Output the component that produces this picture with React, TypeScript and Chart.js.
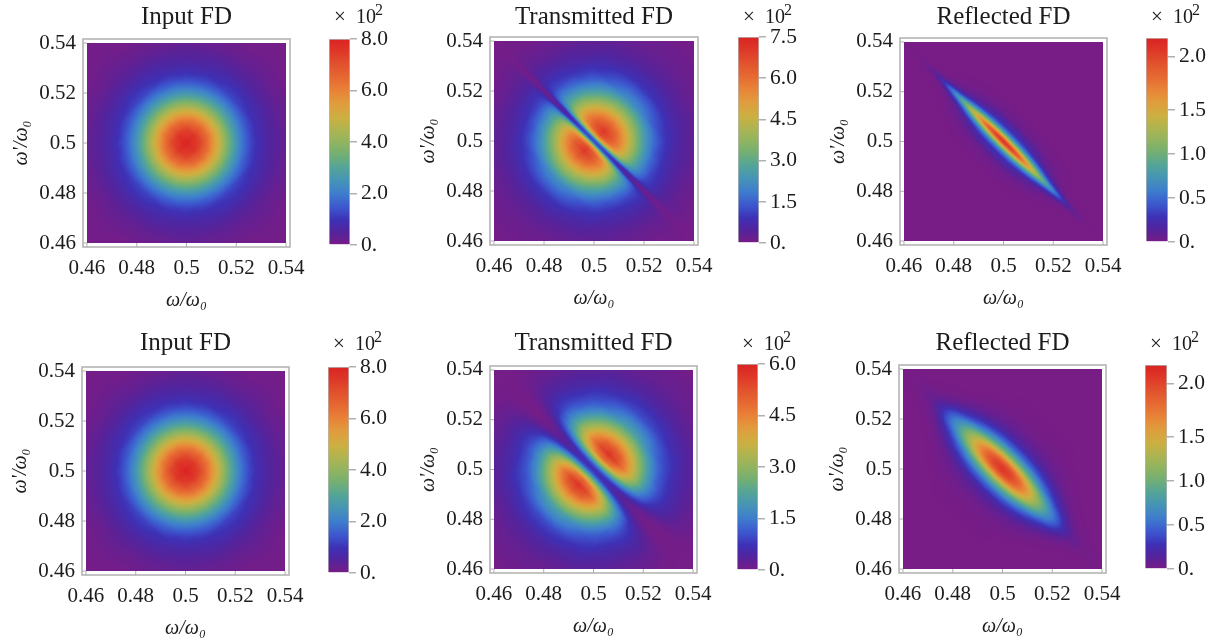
import React, { useEffect, useRef } from "react";
import { Chart, registerables } from "chart.js";

Chart.register(...registerables);

// Axis ticks shared by the six density plots
const freqTicks = [0.46, 0.48, 0.5, 0.52, 0.54];
const freqLabels = ["0.46", "0.48", "0.5", "0.52", "0.54"];
const freqMin = 0.4584;
const freqMax = 0.5416;
const heatMin = 0.46;
const heatMax = 0.54;

// Colour scale (fraction, r, g, b)
const rampAt = [0, 0.06, 0.12, 0.18, 0.25, 0.32, 0.38, 0.44, 0.5, 0.56, 0.62, 0.69, 0.75, 0.81, 0.88, 0.94, 1];
const rampR = [120, 85, 62, 60, 62, 70, 85, 115, 145, 175, 205, 225, 232, 230, 225, 222, 218];
const rampG = [28, 35, 48, 85, 125, 150, 165, 175, 180, 180, 175, 155, 130, 105, 80, 55, 35];
const rampB = [134, 155, 180, 205, 205, 180, 150, 115, 95, 80, 65, 60, 55, 50, 45, 40, 35];

// The maps are tabulated in |ω−ω'| (rows) against |ω+ω'−1| (columns)
const differenceAxis = [0, 0.006, 0.012, 0.018, 0.024, 0.03, 0.036, 0.042, 0.048, 0.055, 0.065, 0.08];

const inputSumAxis = [0, 0.006, 0.012, 0.018, 0.024, 0.03, 0.036, 0.042, 0.048, 0.055, 0.065, 0.08];
const inputValues = [
  [800, 759, 650, 502, 349, 222, 125, 88, 55, 32, 12, 3],
  [759, 720, 617, 476, 331, 210, 120, 84, 52, 30, 12, 3],
  [650, 617, 529, 408, 284, 180, 105, 76, 48, 24, 7, 2],
  [502, 476, 408, 315, 219, 140, 90, 66, 42, 22, 7, 2],
  [349, 331, 284, 219, 155, 100, 72, 53, 34, 17, 7, 2],
  [222, 210, 180, 140, 100, 80, 56, 40, 24, 14, 4, 1],
  [125, 120, 105, 90, 72, 56, 42, 32, 17, 12, 4, 1],
  [88, 84, 76, 66, 53, 40, 32, 20, 12, 7, 2, 0],
  [55, 52, 48, 42, 34, 24, 17, 12, 7, 4, 2, 0],
  [32, 30, 24, 22, 17, 14, 12, 7, 4, 2, 1, 0],
  [12, 12, 7, 7, 7, 4, 4, 2, 2, 1, 0, 0],
  [3, 3, 2, 2, 2, 1, 1, 0, 0, 0, 0, 0],
];

const transmittedASumAxis = [0, 0.0008, 0.0016, 0.0024, 0.0033, 0.0052, 0.008, 0.012, 0.016, 0.02, 0.03, 0.04, 0.05, 0.06, 0.08];
const transmittedAValues = [
  [120, 160, 302, 458, 563, 680, 705, 640, 553, 450, 222, 100, 47, 22, 3],
  [114, 151, 286, 432, 528, 625, 652, 607, 525, 428, 212, 98, 45, 21, 3],
  [98, 130, 245, 372, 458, 542, 560, 519, 450, 367, 180, 88, 43, 20, 3],
  [75, 100, 189, 288, 353, 419, 432, 404, 347, 285, 140, 74, 36, 16, 2],
  [52, 69, 131, 199, 245, 292, 302, 281, 245, 200, 105, 60, 30, 13, 2],
  [33, 55, 106, 151, 174, 197, 199, 178, 158, 125, 84, 50, 26, 10, 2],
  [19, 35, 68, 93, 106, 120, 118, 110, 98, 85, 56, 34, 20, 8, 1],
  [15, 28, 50, 68, 78, 84, 82, 75, 68, 60, 42, 28, 14, 6, 1],
  [12, 18, 30, 40, 48, 52, 52, 48, 44, 38, 28, 17, 8, 5, 0],
  [10, 14, 20, 24, 28, 30, 30, 26, 24, 22, 17, 12, 7, 4, 0],
  [7, 8, 10, 12, 12, 12, 12, 10, 9, 8, 7, 5, 4, 2, 0],
  [2, 2, 2, 2, 2, 2, 2, 2, 2, 2, 2, 1, 0, 0, 0],
];

const reflectedASumAxis = [0, 0.0007, 0.0014, 0.0022, 0.003, 0.0048, 0.0068, 0.0115, 0.0155, 0.02, 0.03, 0.06];
const reflectedAValues = [
  [220, 209, 185, 152, 114, 59, 29, 7, 2, 0, 0, 0],
  [213, 202, 179, 147, 111, 58, 28, 6, 2, 0, 0, 0],
  [195, 185, 164, 135, 101, 53, 25, 6, 2, 0, 0, 0],
  [168, 159, 139, 111, 83, 42, 18, 5, 1, 0, 0, 0],
  [136, 128, 110, 87, 64, 30, 12, 3, 1, 0, 0, 0],
  [104, 96, 80, 58, 41, 17, 8, 2, 0, 0, 0, 0],
  [75, 68, 53, 36, 23, 8, 3, 1, 0, 0, 0, 0],
  [51, 45, 33, 20, 11, 4, 1, 0, 0, 0, 0, 0],
  [26, 22, 14, 7, 3, 1, 0, 0, 0, 0, 0, 0],
  [10, 8, 4, 2, 1, 0, 0, 0, 0, 0, 0, 0],
  [2, 1, 1, 0, 0, 0, 0, 0, 0, 0, 0, 0],
  [0, 0, 0, 0, 0, 0, 0, 0, 0, 0, 0, 0],
];

const transmittedBSumAxis = [0, 0.002, 0.004, 0.006, 0.008, 0.012, 0.016, 0.02, 0.025, 0.03, 0.04, 0.05, 0.06, 0.08];
const transmittedBValues = [
  [64, 111, 235, 364, 482, 572, 525, 441, 328, 222, 100, 47, 22, 3],
  [61, 105, 220, 341, 453, 542, 499, 419, 313, 212, 98, 45, 21, 3],
  [52, 90, 191, 296, 389, 464, 428, 360, 268, 180, 88, 43, 20, 3],
  [40, 70, 147, 228, 300, 361, 330, 279, 210, 140, 74, 36, 16, 2],
  [28, 48, 102, 159, 210, 251, 233, 196, 145, 105, 60, 30, 13, 2],
  [18, 31, 65, 102, 135, 158, 150, 122, 100, 84, 50, 26, 10, 2],
  [10, 17, 37, 58, 77, 95, 95, 85, 70, 56, 34, 20, 8, 1],
  [6, 10, 22, 35, 50, 62, 64, 58, 50, 42, 28, 14, 6, 1],
  [4, 6, 12, 22, 32, 42, 42, 38, 32, 28, 17, 8, 5, 0],
  [4, 5, 8, 12, 18, 22, 24, 22, 20, 17, 12, 7, 4, 0],
  [5, 5, 5, 6, 7, 9, 9, 8, 8, 7, 5, 4, 2, 0],
  [2, 2, 2, 2, 2, 2, 2, 2, 2, 2, 1, 0, 0, 0],
];

const reflectedBSumAxis = [0, 0.002, 0.004, 0.006, 0.008, 0.012, 0.016, 0.02, 0.025, 0.03, 0.04, 0.06];
const reflectedBValues = [
  [220, 211, 185, 145, 106, 53, 22, 10, 3, 1, 0, 0],
  [213, 204, 179, 141, 102, 51, 21, 10, 3, 1, 0, 0],
  [194, 186, 163, 128, 93, 47, 19, 9, 3, 1, 0, 0],
  [166, 159, 138, 108, 78, 38, 16, 7, 2, 1, 0, 0],
  [133, 127, 109, 84, 59, 28, 12, 5, 2, 0, 0, 0],
  [101, 96, 81, 61, 41, 19, 7, 3, 1, 0, 0, 0],
  [71, 67, 54, 38, 25, 11, 4, 1, 0, 0, 0, 0],
  [48, 44, 34, 22, 14, 4, 1, 0, 0, 0, 0, 0],
  [24, 21, 15, 9, 5, 1, 0, 0, 0, 0, 0, 0],
  [8, 7, 4, 2, 1, 0, 0, 0, 0, 0, 0, 0],
  [2, 2, 1, 0, 0, 0, 0, 0, 0, 0, 0, 0],
  [0, 0, 0, 0, 0, 0, 0, 0, 0, 0, 0, 0],
];

// Colour bar ticks: where each label sits on the bar, and what it reads
const inputBarTicks = [0, 200, 400, 600, 800];
const inputBarLabels = ["0.", "2.0", "4.0", "6.0", "8.0"];
const transmittedABarTicks = [0, 150, 300, 450, 600, 750];
const transmittedABarLabels = ["0.", "1.5", "3.0", "4.5", "6.0", "7.5"];
const transmittedBBarTicks = [0, 150, 300, 450, 600];
const transmittedBBarLabels = ["0.", "1.5", "3.0", "4.5", "6.0"];
const reflectedBarTicks = [0, 50, 100, 150, 211];
const reflectedBarLabels = ["0.", "0.5", "1.0", "1.5", "2.0"];

const panels = [
  { title: "Input FD", sum: inputSumAxis, values: inputValues, max: 800, barTicks: inputBarTicks, barLabels: inputBarLabels, frame: [83, 290, 39, 247], bar: [329, 350, 39, 248], titleY: 17, noteY: 23 },
  { title: "Transmitted FD", sum: transmittedASumAxis, values: transmittedAValues, max: 750, barTicks: transmittedABarTicks, barLabels: transmittedABarLabels, frame: [490, 698, 37, 245], bar: [738, 759, 37, 246], titleY: 17, noteY: 23 },
  { title: "Reflected FD", sum: reflectedASumAxis, values: reflectedAValues, max: 232, barTicks: reflectedBarTicks, barLabels: reflectedBarLabels, frame: [900, 1107, 38, 245], bar: [1146, 1168, 38, 245], titleY: 17, noteY: 23 },
  { title: "Input FD", sum: inputSumAxis, values: inputValues, max: 800, barTicks: inputBarTicks, barLabels: inputBarLabels, frame: [82, 289, 367, 575], bar: [328, 349, 367, 576], titleY: 343.5, noteY: 350 },
  { title: "Transmitted FD", sum: transmittedBSumAxis, values: transmittedBValues, max: 600, barTicks: transmittedBBarTicks, barLabels: transmittedBBarLabels, frame: [490, 697, 366, 573], bar: [737, 758, 364, 573], titleY: 343.5, noteY: 350 },
  { title: "Reflected FD", sum: reflectedBSumAxis, values: reflectedBValues, max: 232, barTicks: reflectedBarTicks, barLabels: reflectedBarLabels, frame: [899, 1106, 365, 573], bar: [1145, 1167, 365, 572], titleY: 343.5, noteY: 350 },
];

const SERIF = '"Liberation Serif", "Times New Roman", serif';
const INK = "#1c1c1c";
const EDGE = "#b0b0b0";
const LEFT = 82;
const TOP = 39;
const BOTTOM = 67;
const RIGHT = 26;

function rampColor(t: number): number[] {
  const f = Math.max(0, Math.min(1, t));
  let i = 0;
  while (i < rampAt.length - 2 && f > rampAt[i + 1]) i++;
  const k = (f - rampAt[i]) / (rampAt[i + 1] - rampAt[i]);
  return [
    rampR[i] + (rampR[i + 1] - rampR[i]) * k,
    rampG[i] + (rampG[i + 1] - rampG[i]) * k,
    rampB[i] + (rampB[i + 1] - rampB[i]) * k,
  ];
}

function locate(axis: number[], a: number): [number, number] {
  let i = 0;
  while (i < axis.length - 2 && a > axis[i + 1]) i++;
  return [i, Math.min(1, (a - axis[i]) / (axis[i + 1] - axis[i]))];
}

function rasterPlugin(p: any) {
  return {
    id: "densityRaster",
    beforeDatasetsDraw(chart: any) {
      const { ctx, scales } = chart;
      const xs = scales.x;
      const ys = scales.y;
      const left = Math.round(xs.getPixelForValue(heatMin));
      const right = Math.round(xs.getPixelForValue(heatMax));
      const top = Math.round(ys.getPixelForValue(heatMax));
      const bottom = Math.round(ys.getPixelForValue(heatMin));
      const w = right - left;
      const h = bottom - top;
      const off = document.createElement("canvas");
      off.width = w;
      off.height = h;
      const octx = off.getContext("2d") as CanvasRenderingContext2D;
      const img = octx.createImageData(w, h);
      const lut: number[][] = [];
      for (let i = 0; i <= 1024; i++) lut.push(rampColor(i / 1024));
      for (let py = 0; py < h; py++) {
        const wy = ys.getValueForPixel(top + py + 0.5);
        for (let px = 0; px < w; px++) {
          const wx = xs.getValueForPixel(left + px + 0.5);
          const [r, a] = locate(differenceAxis, Math.abs(wx - wy));
          const [c, b] = locate(p.sum, Math.abs(wx + wy - 1));
          const row0 = p.values[r];
          const row1 = p.values[r + 1];
          const v0 = row0[c] + (row0[c + 1] - row0[c]) * b;
          const v1 = row1[c] + (row1[c + 1] - row1[c]) * b;
          const col = lut[Math.round(((v0 + (v1 - v0) * a) / p.max) * 1024)];
          const o = (py * w + px) * 4;
          img.data[o] = col[0];
          img.data[o + 1] = col[1];
          img.data[o + 2] = col[2];
          img.data[o + 3] = 255;
        }
      }
      octx.putImageData(img, 0, 0);
      ctx.drawImage(off, left, top);
    },
    afterDraw(chart: any) {
      const { ctx, chartArea: ca, scales } = chart;
      ctx.save();
      ctx.strokeStyle = EDGE;
      ctx.lineWidth = 1.5;
      ctx.strokeRect(ca.left, ca.top, ca.right - ca.left, ca.bottom - ca.top);
      ctx.lineWidth = 1;
      ctx.beginPath();
      for (const t of scales.x.ticks) {
        const px = scales.x.getPixelForValue(t.value);
        ctx.moveTo(px, ca.bottom);
        ctx.lineTo(px, ca.bottom - 4);
      }
      for (const t of scales.y.ticks) {
        const py = scales.y.getPixelForValue(t.value);
        ctx.moveTo(ca.left, py);
        ctx.lineTo(ca.left + 4, py);
      }
      ctx.stroke();
      ctx.restore();
    },
  };
}

function setFreqTicks(scale: any) {
  scale.ticks = freqTicks.map((value) => ({ value }));
}

function densityConfig(p: any): any {
  const points: any[] = [];
  differenceAxis.forEach((d, r) =>
    p.sum.forEach((s: number, c: number) => {
      points.push({ x: 0.5 + (s + d) / 2, y: 0.5 + (s - d) / 2, value: p.values[r][c] });
    })
  );
  const tickFont = { family: SERIF, size: 21 };
  const axisFont = { family: SERIF, size: 20, style: "italic" as const, lineHeight: 1.2 };
  const titleTop = p.titleY + 24 - p.frame[2];
  return {
    type: "scatter",
    data: { datasets: [{ label: p.title, data: points, pointRadius: 0, showLine: false }] },
    plugins: [rasterPlugin(p)],
    options: {
      animation: false,
      responsive: false,
      events: [],
      layout: { autoPadding: false, padding: { right: RIGHT } },
      plugins: {
        legend: { display: false },
        tooltip: { enabled: false },
        title: {
          display: true,
          text: p.title,
          fullSize: false,
          color: INK,
          font: { family: SERIF, size: 25, weight: "normal", lineHeight: 1.2 },
          padding: { top: titleTop, bottom: 9 - titleTop },
        },
      },
      scales: {
        x: {
          type: "linear",
          min: freqMin,
          max: freqMax,
          afterBuildTicks: setFreqTicks,
          afterFit: (s: any) => {
            s.height = BOTTOM;
          },
          grid: { display: false, drawTicks: false },
          border: { display: false },
          ticks: {
            color: INK,
            font: tickFont,
            padding: 9,
            maxRotation: 0,
            autoSkip: false,
            callback: (_: any, i: number) => freqLabels[i],
          },
          title: { display: true, text: "ω/ω₀", color: INK, font: axisFont, padding: { top: 0, bottom: 1 } },
        },
        y: {
          type: "linear",
          min: freqMin,
          max: freqMax,
          afterBuildTicks: setFreqTicks,
          afterFit: (s: any) => {
            s.width = LEFT;
          },
          grid: { display: false, drawTicks: false },
          border: { display: false },
          ticks: {
            color: INK,
            font: tickFont,
            padding: 7,
            autoSkip: false,
            callback: (_: any, i: number) => freqLabels[i],
          },
          title: { display: true, text: "ω'/ω₀", color: INK, font: axisFont, padding: { top: 9, bottom: 0 } },
        },
      },
    },
  };
}

function barConfig(p: any, canvasTop: number): any {
  const note = {
    id: "barMultiplier",
    afterDraw(chart: any) {
      const { ctx, chartArea: ca } = chart;
      const x = ca.left + 5;
      const y = p.noteY - canvasTop;
      ctx.save();
      ctx.fillStyle = INK;
      ctx.textBaseline = "alphabetic";
      ctx.textAlign = "left";
      ctx.font = `21px ${SERIF}`;
      ctx.fillText("×", x, y);
      ctx.font = `20px ${SERIF}`;
      ctx.fillText("10", x + 22, y);
      ctx.font = `16px ${SERIF}`;
      ctx.fillText("2", x + 41, y - 8);
      ctx.restore();
    },
  };
  return {
    type: "bar",
    data: {
      labels: [p.title],
      datasets: [
        {
          label: "colour scale",
          data: [[0, p.max]],
          barPercentage: 1,
          categoryPercentage: 1,
          borderWidth: 1,
          borderColor: "#b8b8b8",
          backgroundColor: (c: any) => {
            const area = c.chart.chartArea;
            if (!area) return "#000";
            const g = c.chart.ctx.createLinearGradient(0, area.bottom, 0, area.top);
            rampAt.forEach((t, i) => g.addColorStop(t, `rgb(${rampR[i]},${rampG[i]},${rampB[i]})`));
            return g;
          },
        },
      ],
    },
    plugins: [note],
    options: {
      animation: false,
      responsive: false,
      events: [],
      layout: { autoPadding: false, padding: { top: TOP } },
      plugins: { legend: { display: false }, tooltip: { enabled: false }, title: { display: false } },
      scales: {
        x: { display: false },
        y: {
          position: "right",
          min: 0,
          max: p.max,
          afterBuildTicks: (s: any) => {
            s.ticks = p.barTicks.map((value: number) => ({ value }));
          },
          afterFit: (s: any) => {
            s.width = 50;
          },
          grid: { drawOnChartArea: false, tickLength: 7, color: EDGE, lineWidth: 1.5 },
          border: { display: false },
          ticks: {
            color: INK,
            font: { family: SERIF, size: 21.5 },
            padding: 4,
            autoSkip: false,
            callback: (_: any, i: number) => p.barLabels[i],
          },
        },
      },
    },
  };
}

function Canvas({ config, left, top, width, height }: any) {
  const ref = useRef<HTMLCanvasElement | null>(null);
  useEffect(() => {
    const chart = new Chart(ref.current as HTMLCanvasElement, config);
    return () => chart.destroy();
  }, [config]);
  return (
    <canvas
      ref={ref}
      width={width}
      height={height}
      style={{ position: "absolute", left, top, width, height, display: "block" }}
    />
  );
}

const items = panels.flatMap((p) => {
  const [fl, fr, ft, fb] = p.frame;
  const [bl, br, bt, bb] = p.bar;
  return [
    {
      key: `${p.frame[0]}-${p.frame[2]}`,
      config: densityConfig(p),
      left: fl - LEFT,
      top: ft - TOP,
      width: fr - fl + LEFT + RIGHT,
      height: fb - ft + TOP + BOTTOM,
    },
    {
      key: `${p.bar[0]}-${p.bar[2]}`,
      config: barConfig(p, bt - TOP),
      left: bl,
      top: bt - TOP,
      width: br - bl + 50,
      height: bb - bt + TOP + 14,
    },
  ];
});

export default function App() {
  return (
    <div style={{ position: "absolute", left: 0, top: 0, width: 1220, height: 642, overflow: "hidden", background: "#fff" }}>
      {items.map(({ key, ...rest }) => (
        <Canvas key={key} {...rest} />
      ))}
    </div>
  );
}
